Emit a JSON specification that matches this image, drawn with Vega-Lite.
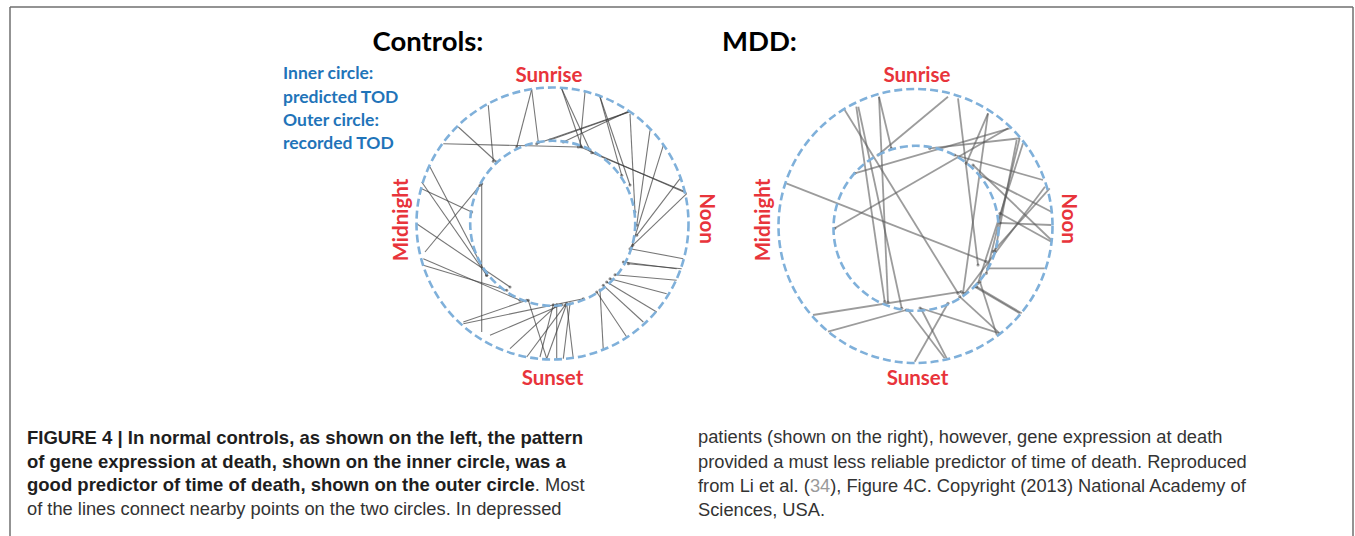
{
  "$schema": "https://vega.github.io/schema/vega-lite/v6.json",
  "width": 1355,
  "height": 536,
  "autosize": "none",
  "padding": 0,
  "background": "white",
  "config": {"view": {"stroke": null}},
  "datasets": {
    "ctrl": [
      {"x": 531.7, "y": 89.3, "x2": 516.7, "y2": 147},
      {"x": 531.7, "y": 89.3, "x2": 538.3, "y2": 142},
      {"x": 561.7, "y": 88.7, "x2": 590, "y2": 150.3},
      {"x": 561.7, "y": 88.7, "x2": 581.7, "y2": 147},
      {"x": 585, "y": 92, "x2": 580, "y2": 145.3},
      {"x": 600, "y": 97, "x2": 621.7, "y2": 175.3},
      {"x": 600, "y": 96.7, "x2": 630, "y2": 185},
      {"x": 488.3, "y": 105.3, "x2": 493.3, "y2": 161.3},
      {"x": 458.3, "y": 127, "x2": 496.7, "y2": 162},
      {"x": 443.3, "y": 143.7, "x2": 578.3, "y2": 147},
      {"x": 628.3, "y": 111.3, "x2": 563.3, "y2": 142},
      {"x": 628.3, "y": 112, "x2": 536.7, "y2": 143.7},
      {"x": 630, "y": 111.7, "x2": 550, "y2": 140},
      {"x": 630, "y": 113.7, "x2": 635, "y2": 212},
      {"x": 650, "y": 130.3, "x2": 636.7, "y2": 225.3},
      {"x": 663.3, "y": 145.3, "x2": 631.7, "y2": 247},
      {"x": 680, "y": 178.7, "x2": 636.7, "y2": 235.3},
      {"x": 686, "y": 192, "x2": 591.7, "y2": 152.7},
      {"x": 686.7, "y": 193.3, "x2": 580, "y2": 146.7},
      {"x": 686.7, "y": 193.7, "x2": 632.7, "y2": 245.3},
      {"x": 683.3, "y": 258.7, "x2": 630, "y2": 248.7},
      {"x": 681.7, "y": 268.7, "x2": 628.3, "y2": 263.7},
      {"x": 676.7, "y": 268.7, "x2": 623.3, "y2": 262},
      {"x": 676.7, "y": 280.3, "x2": 615, "y2": 274.7},
      {"x": 666.7, "y": 293.7, "x2": 610, "y2": 278.7},
      {"x": 656.7, "y": 312, "x2": 606.7, "y2": 282},
      {"x": 643.3, "y": 322, "x2": 603.3, "y2": 285.3},
      {"x": 626.7, "y": 337, "x2": 596.7, "y2": 292},
      {"x": 603.3, "y": 350.3, "x2": 600, "y2": 290},
      {"x": 573.3, "y": 358.7, "x2": 566.7, "y2": 303.7},
      {"x": 563.3, "y": 358.7, "x2": 570, "y2": 303.7},
      {"x": 556.7, "y": 358.7, "x2": 556.7, "y2": 304.7},
      {"x": 546.7, "y": 358.7, "x2": 566.7, "y2": 303.7},
      {"x": 546.7, "y": 358.7, "x2": 528.3, "y2": 300.3},
      {"x": 540, "y": 357, "x2": 553.3, "y2": 304.7},
      {"x": 526.7, "y": 357, "x2": 565, "y2": 305.3},
      {"x": 510, "y": 348.7, "x2": 556.7, "y2": 305.3},
      {"x": 490, "y": 335.3, "x2": 561.7, "y2": 304.7},
      {"x": 481.7, "y": 332, "x2": 481.7, "y2": 183.7},
      {"x": 463.3, "y": 322, "x2": 526.7, "y2": 300.3},
      {"x": 463.3, "y": 323.7, "x2": 583.3, "y2": 298.7},
      {"x": 423.3, "y": 258.7, "x2": 520, "y2": 300.3},
      {"x": 423.3, "y": 265.3, "x2": 506.7, "y2": 290.3},
      {"x": 416.7, "y": 223.7, "x2": 510, "y2": 287},
      {"x": 421.7, "y": 188.7, "x2": 471.7, "y2": 212},
      {"x": 421.7, "y": 182, "x2": 486.7, "y2": 275.3},
      {"x": 430, "y": 167, "x2": 486.7, "y2": 275.3},
      {"x": 425, "y": 252, "x2": 480, "y2": 185.3}
    ],
    "mdd": [
      {"x": 844.7, "y": 110, "x2": 958, "y2": 293.3},
      {"x": 856.3, "y": 106.7, "x2": 884.7, "y2": 301.7},
      {"x": 858.3, "y": 106.7, "x2": 901.7, "y2": 308.3},
      {"x": 879, "y": 96.7, "x2": 888, "y2": 302},
      {"x": 879, "y": 96.7, "x2": 891.3, "y2": 148.3},
      {"x": 948, "y": 96.7, "x2": 878, "y2": 155},
      {"x": 958, "y": 98.3, "x2": 978, "y2": 265},
      {"x": 988, "y": 113.3, "x2": 966.3, "y2": 163.3},
      {"x": 988, "y": 113.3, "x2": 963, "y2": 293.3},
      {"x": 1009.7, "y": 128.3, "x2": 854.7, "y2": 173.3},
      {"x": 1008, "y": 128.3, "x2": 834.7, "y2": 228.3},
      {"x": 1019.7, "y": 138.3, "x2": 929.7, "y2": 148.3},
      {"x": 1019.7, "y": 138.3, "x2": 986.3, "y2": 273.3},
      {"x": 1016.7, "y": 140, "x2": 995, "y2": 251.7},
      {"x": 1023, "y": 143.3, "x2": 978, "y2": 283.3},
      {"x": 1043, "y": 180, "x2": 954.7, "y2": 155},
      {"x": 1045, "y": 186.7, "x2": 965, "y2": 293.3},
      {"x": 1049.7, "y": 188.3, "x2": 993, "y2": 251.7},
      {"x": 1051.3, "y": 211.7, "x2": 979.7, "y2": 175},
      {"x": 1051.3, "y": 225, "x2": 1000, "y2": 223},
      {"x": 1051.3, "y": 240, "x2": 973, "y2": 165},
      {"x": 1051.3, "y": 241.7, "x2": 1000, "y2": 213.3},
      {"x": 1044.7, "y": 268.3, "x2": 988, "y2": 268.3},
      {"x": 1019.7, "y": 313.3, "x2": 974.7, "y2": 286.7},
      {"x": 1021.7, "y": 313.3, "x2": 976.7, "y2": 286.7},
      {"x": 999.7, "y": 333.3, "x2": 959.7, "y2": 296.7},
      {"x": 999.7, "y": 333.3, "x2": 920, "y2": 308},
      {"x": 996.7, "y": 335, "x2": 980, "y2": 281.7},
      {"x": 946.7, "y": 358.3, "x2": 921.7, "y2": 310},
      {"x": 944.7, "y": 358.3, "x2": 908, "y2": 310},
      {"x": 914.7, "y": 361.7, "x2": 948, "y2": 303.3},
      {"x": 813, "y": 315, "x2": 961.3, "y2": 291.7},
      {"x": 828, "y": 331.7, "x2": 906.3, "y2": 310},
      {"x": 786.3, "y": 183.3, "x2": 986.3, "y2": 261.7}
    ]
  },
  "encoding": {
    "x": {"field": "x", "type": "quantitative", "scale": {"domain": [0, 1355], "nice": false, "zero": false}, "axis": null},
    "y": {"field": "y", "type": "quantitative", "scale": {"domain": [0, 536], "nice": false, "zero": false, "reverse": true}, "axis": null}
  },
  "layer": [
    {
      "data": {"values": [
        {"x": 10, "y": 7, "x2": 1353, "y2": 7},
        {"x": 10, "y": 7, "x2": 10, "y2": 536},
        {"x": 1353, "y": 7, "x2": 1353, "y2": 536}
      ]},
      "mark": {"type": "rule", "color": "#6f6f6f", "strokeWidth": 1.5},
      "encoding": {"x2": {"field": "x2"}, "y2": {"field": "y2"}}
    },
    {
      "data": {"name": "ctrl"},
      "mark": {"type": "rule", "color": "#3c3c3c", "strokeWidth": 1.1, "opacity": 0.7},
      "encoding": {"x2": {"field": "x2"}, "y2": {"field": "y2"}}
    },
    {
      "data": {"name": "ctrl"},
      "mark": {"type": "point", "shape": "circle", "filled": true, "color": "#333333", "size": 9, "opacity": 0.55},
      "encoding": {
        "x": {"field": "x2", "type": "quantitative", "scale": {"domain": [0, 1355], "nice": false, "zero": false}, "axis": null},
        "y": {"field": "y2", "type": "quantitative", "scale": {"domain": [0, 536], "nice": false, "zero": false, "reverse": true}, "axis": null}
      }
    },
    {
      "data": {"name": "mdd"},
      "mark": {"type": "rule", "color": "#5a5a5a", "strokeWidth": 1.8, "opacity": 0.6},
      "encoding": {"x2": {"field": "x2"}, "y2": {"field": "y2"}}
    },
    {
      "data": {"name": "mdd"},
      "mark": {"type": "point", "shape": "circle", "filled": true, "color": "#444444", "size": 10, "opacity": 0.5},
      "encoding": {
        "x": {"field": "x2", "type": "quantitative", "scale": {"domain": [0, 1355], "nice": false, "zero": false}, "axis": null},
        "y": {"field": "y2", "type": "quantitative", "scale": {"domain": [0, 536], "nice": false, "zero": false, "reverse": true}, "axis": null}
      }
    },
    {
      "data": {"values": [
        {"x": 552.5, "y": 223.5, "d": 73984},
        {"x": 552.7, "y": 223.3, "d": 27225},
        {"x": 915.5, "y": 226, "d": 75076},
        {"x": 916, "y": 228.3, "d": 27225}
      ]},
      "mark": {"type": "point", "shape": "circle", "filled": false, "stroke": "#7fb0da", "strokeWidth": 2.6, "strokeDash": [8, 4], "opacity": 1},
      "encoding": {"size": {"field": "d", "type": "quantitative", "scale": null}}
    },
    {
      "data": {"values": [
        {"x": 428, "y": 51, "t": "Controls:"},
        {"x": 759.5, "y": 51, "t": "MDD:"}
      ]},
      "mark": {"type": "text", "font": "Lato", "fontWeight": "bold", "fontSize": 27.5, "align": "center", "baseline": "alphabetic", "color": "#000000"},
      "encoding": {"text": {"field": "t"}}
    },
    {
      "data": {"values": [
        {"x": 549, "y": 81.5, "t": "Sunrise"},
        {"x": 552.5, "y": 385, "t": "Sunset"},
        {"x": 917, "y": 81.5, "t": "Sunrise"},
        {"x": 917.5, "y": 385, "t": "Sunset"}
      ]},
      "mark": {"type": "text", "font": "Lato", "fontWeight": "bold", "fontSize": 20.5, "align": "center", "baseline": "alphabetic", "color": "#e8343b"},
      "encoding": {"text": {"field": "t"}}
    },
    {
      "data": {"values": [
        {"x": 401.5, "y": 220, "t": "Midnight"},
        {"x": 763.5, "y": 220, "t": "Midnight"}
      ]},
      "mark": {"type": "text", "font": "Lato", "fontWeight": "bold", "fontSize": 20.5, "align": "center", "baseline": "middle", "angle": 270, "color": "#e8343b"},
      "encoding": {"text": {"field": "t"}}
    },
    {
      "data": {"values": [
        {"x": 705.5, "y": 218.5, "t": "Noon"},
        {"x": 1067.5, "y": 218.5, "t": "Noon"}
      ]},
      "mark": {"type": "text", "font": "Lato", "fontWeight": "bold", "fontSize": 20.5, "align": "center", "baseline": "middle", "angle": 90, "color": "#e8343b"},
      "encoding": {"text": {"field": "t"}}
    },
    {
      "data": {"values": [
        {"x": 283, "y": 79, "t": "Inner circle:"},
        {"x": 283, "y": 102.5, "t": "predicted TOD"},
        {"x": 283, "y": 125.5, "t": "Outer circle:"},
        {"x": 283, "y": 149, "t": "recorded TOD"}
      ]},
      "mark": {"type": "text", "font": "Lato", "fontWeight": "bold", "fontSize": 17.5, "align": "left", "baseline": "alphabetic", "color": "#1f74b9"},
      "encoding": {"text": {"field": "t"}}
    },
    {
      "data": {"values": [
        {"x": 27, "y": 444, "t": "FIGURE 4 | In normal controls, as shown on the left, the pattern"},
        {"x": 27, "y": 467.5, "t": "of gene expression at death, shown on the inner circle, was a"},
        {"x": 27, "y": 491, "t": "good predictor of time of death, shown on the outer circle"}
      ]},
      "mark": {"type": "text", "font": "Liberation Sans", "fontWeight": "bold", "fontSize": 18.5, "align": "left", "baseline": "alphabetic", "color": "#1e1e1e"},
      "encoding": {"text": {"field": "t"}}
    },
    {
      "data": {"values": [
        {"x": 534.8, "y": 491, "t": ". Most"},
        {"x": 27, "y": 515, "t": "of the lines connect nearby points on the two circles. In depressed"},
        {"x": 698, "y": 443, "t": "patients (shown on the right), however, gene expression at death"},
        {"x": 698, "y": 467.5, "t": "provided a must less reliable predictor of time of death. Reproduced"},
        {"x": 698, "y": 491.5, "t": "from Li et al. ("},
        {"x": 830.2, "y": 491.5, "t": "), Figure 4C. Copyright (2013) National Academy of"},
        {"x": 698, "y": 516, "t": "Sciences, USA."}
      ]},
      "mark": {"type": "text", "font": "Liberation Sans", "fontSize": 18.3, "align": "left", "baseline": "alphabetic", "color": "#333333"},
      "encoding": {"text": {"field": "t"}}
    },
    {
      "data": {"values": [
        {"x": 809.9, "y": 491.5, "t": "34"}
      ]},
      "mark": {"type": "text", "font": "Liberation Sans", "fontSize": 18.3, "align": "left", "baseline": "alphabetic", "color": "#9a9a9a"},
      "encoding": {"text": {"field": "t"}}
    }
  ]
}
